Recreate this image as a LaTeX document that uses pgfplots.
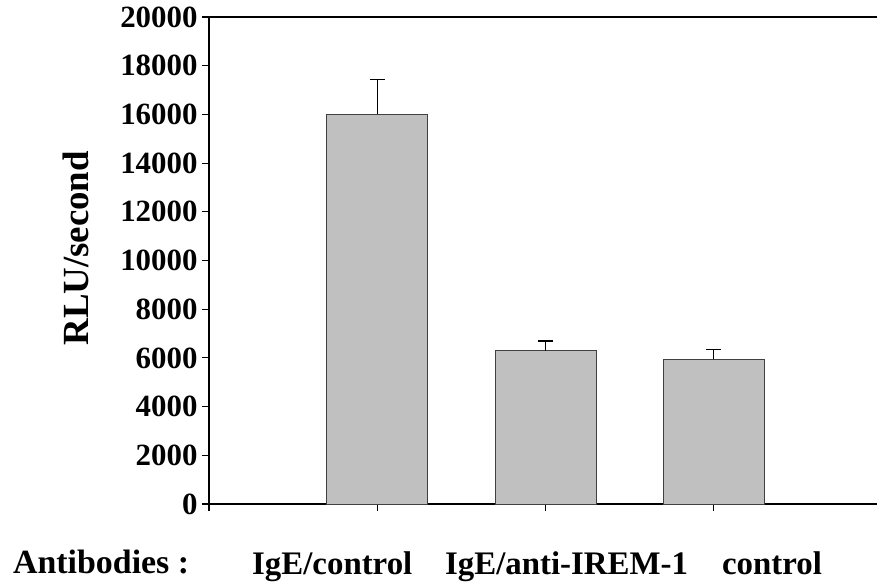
\documentclass[border=0pt]{standalone}
\usepackage{pgfplots}
\pgfplotsset{compat=1.18}
\usepackage{fontspec}
\setmainfont{Liberation Serif}
\definecolor{barfill}{RGB}{192,192,192}
\begin{document}
\begin{tikzpicture}[x=1bp,y=1bp]
\useasboundingbox (-209bp,-78bp) rectangle (668bp,504bp);
\begin{axis}[
  at={(0,0)}, anchor=south west,
  scale only axis,
  width=668bp, height=487bp,
  xmin=0, xmax=3.97,
  ymin=0, ymax=20000,
  axis lines=left,
  axis line style={-, line width=1.4pt, black},
  tick align=outside,
  major tick length=7bp,
  tick style={line width=1.2pt, black},
  xtick={0,1,2,3},
  xticklabels={},
  ytick={0,2000,...,20000},
  scaled y ticks=false,
  /pgf/number format/assume math mode=true,
  /pgf/number format/1000 sep={},
  /pgf/number format/fixed,
  yticklabel style={font=\fontsize{31}{31}\selectfont\bfseries, xshift=-1bp},
  ylabel={RLU/second},
  ylabel style={at={(axis description cs:-0.199,0.525)}, anchor=center, font=\fontsize{37}{37}\selectfont\bfseries},
  clip=false,
  ybar, bar width=101bp,
]
\addplot[fill=barfill, draw=black!75, line width=0.8pt,
  error bars/.cd, y dir=plus, y explicit,
  error bar style={line width=1.3pt, black},
  error mark options={rotate=90, mark size=7.5bp, line width=1.3pt, black}]
  coordinates {
  (1,16000) +- (0,1420)
  (2,6300) +- (0,400)
  (3,5950) +- (0,400)
  };
\draw[line width=1.4pt, black] ([xshift=-7bp]rel axis cs:0,1) -- (rel axis cs:1,1);
\node[anchor=base west, inner sep=0, font=\fontsize{34}{34}\selectfont\bfseries] at ([yshift=-69bp]axis cs:-1.165,0) {Antibodies :};
\node[anchor=base west, inner sep=0, font=\fontsize{33}{33}\selectfont\bfseries] at ([yshift=-70bp]axis cs:0.2555,0) {IgE/control};
\node[anchor=base west, inner sep=0, font=\fontsize{33}{33}\selectfont\bfseries] at ([yshift=-70bp]axis cs:1.402,0) {IgE/anti-IREM-1};
\node[anchor=base west, inner sep=0, font=\fontsize{33}{33}\selectfont\bfseries] at ([yshift=-70bp]axis cs:3.048,0) {control};
\end{axis}
\end{tikzpicture}
\end{document}
